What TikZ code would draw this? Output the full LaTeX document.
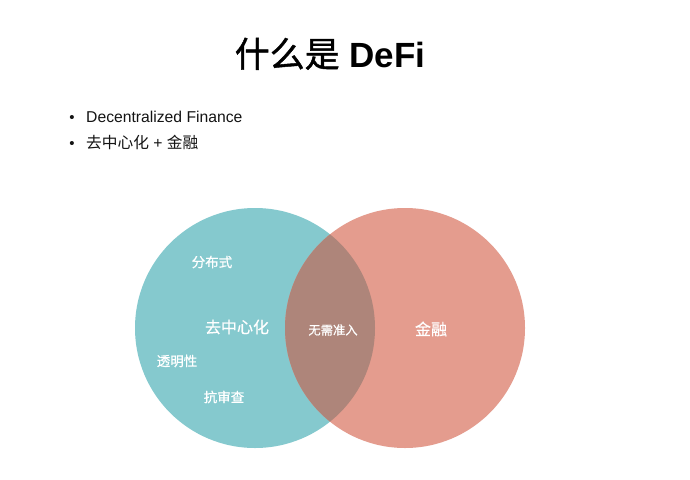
\documentclass[tikz,border=0pt]{standalone}
\usepackage{fontspec}
\setmainfont{Liberation Sans}
\newfontfamily\cjk{Noto Sans CJK SC}
\newfontfamily\cjkmed[FakeBold=0.6]{Noto Sans CJK SC}
\newfontfamily\cjkhead[FakeBold=1.2]{Noto Sans CJK SC}
\definecolor{tealfill}{RGB}{133,201,206}
\definecolor{salmonfill}{RGB}{228,156,142}
\definecolor{overlapfill}{RGB}{174,133,122}
\definecolor{inktext}{RGB}{20,20,20}
\begin{document}
\begin{tikzpicture}[x=1pt,y=-1pt,
  setcircle/.style={circle,minimum size=240pt,inner sep=0pt,draw=none},
  bulletdot/.style={anchor=base,inner sep=0pt,text=inktext,font=\fontsize{15}{18}\selectfont},
  bullettext/.style={anchor=base west,inner sep=0pt,text=inktext,font=\fontsize{15.7}{19}\selectfont},
  biglabel/.style={text=white,inner sep=0pt,font=\cjkmed\fontsize{16}{18}\selectfont},
  smalllabel/.style={text=white,inner sep=0pt,font=\cjkmed\fontsize{13.5}{16}\selectfont},
  tinylabel/.style={text=white,inner sep=0pt,font=\cjkmed\fontsize{12.3}{14}\selectfont}]
\useasboundingbox (0,0) rectangle (690,479);
\fill[white] (0,0) rectangle (690,479);

% title
\node[anchor=base,inner sep=0pt,text=black,font=\fontsize{35}{40}\selectfont] (title) at (330,67)
  {{\cjkhead 什么是} \textbf{DeFi}};

% bullet list
\node[bulletdot] (b1) at (72,122) {•};
\node[bullettext] (t1) at (86,122) {Decentralized Finance};
\node[bulletdot] (b2) at (72,148) {•};
\node[bullettext] (t2) at (86,148) {{\cjk 去中心化} + {\cjk 金融}};

% the two sets
\node[setcircle,fill=tealfill] (left) at (255,328) {};
\node[setcircle,fill=salmonfill] (right) at (405,328) {};
\begin{scope}
  \clip (left.center) circle[radius=120pt];
  \fill[overlapfill] (right.center) circle[radius=120pt];
\end{scope}

% labels
\node[smalllabel] (fbs) at (212,262) {分布式};
\node[biglabel] (qzx) at (237,327) {去中心化};
\node[smalllabel] (tmx) at (177,361) {透明性};
\node[smalllabel] (kst) at (224,397) {抗审查};
\node[tinylabel] (wxzr) at (333,330) {无需准入};
\node[biglabel] (jr) at (431,329) {金融};
\end{tikzpicture}
\end{document}
